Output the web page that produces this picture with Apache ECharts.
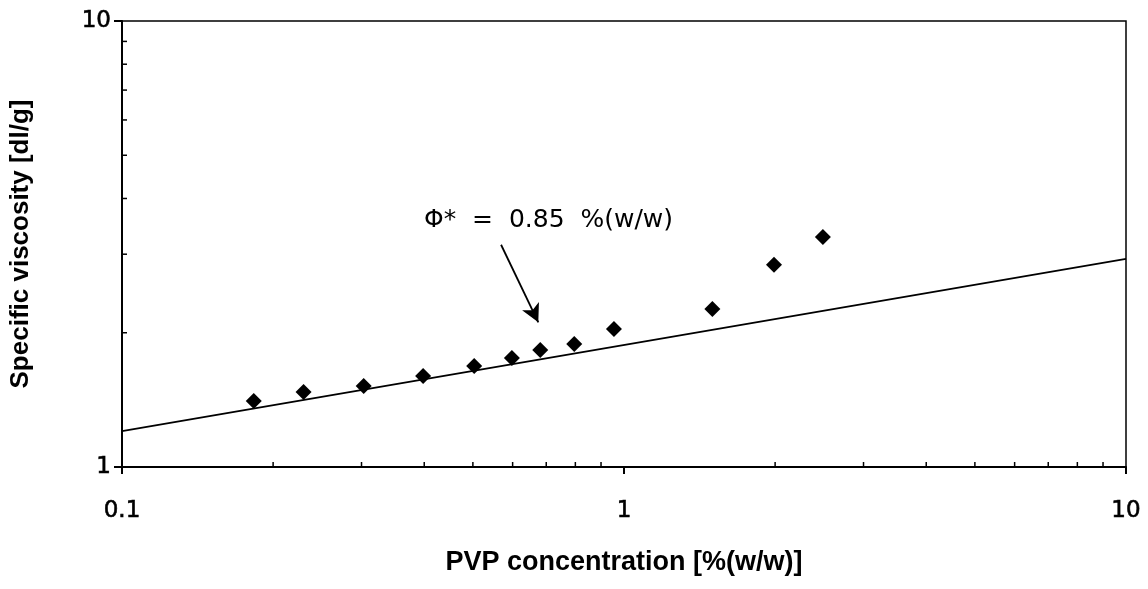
<!DOCTYPE html>
<html>
<head>
<meta charset="utf-8">
<script src="https://cdn.jsdelivr.net/npm/echarts@6/dist/echarts.min.js"></script>
<style>html,body{margin:0;padding:0;background:#fff}#c{width:1148px;height:589px}</style>
</head>
<body>
<div id="c"></div>
<script>
// Data
var concentration = [0.183, 0.230, 0.303, 0.398, 0.503, 0.598, 0.681, 0.796, 0.955, 1.50, 1.99, 2.49];
var viscosity     = [1.406, 1.473, 1.519, 1.600, 1.685, 1.756, 1.829, 1.888, 2.04, 2.26, 2.84, 3.28];
var fitX = [0.1, 10];
var fitY = [1.204, 2.93];
var arrowFrom = [0.569, 3.15];
var arrowTo = [0.675, 2.11];
var annotation = 'Φ*  =  0.85  %(w/w)';
var xMinorTicks = [0.2,0.3,0.4,0.5,0.6,0.7,0.8,0.9,2,3,4,5,6,7,8,9];
var yMinorTicks = [2,3,4,5,6,7,8,9];
var xTickLabels = {0.1:'0.1', 1:'1', 10:'10'};
var yTickLabels = {1:'1', 10:'10'};

var chart = echarts.init(document.getElementById('c'));
var tickLen = 5;
function minorTickSeries(vals, isX) {
  return {
    type: 'custom',
    silent: true,
    z: 5,
    data: vals.map(function (v) { return [v]; }),
    renderItem: function (params, api) {
      var v = api.value(0);
      var p, shape;
      if (isX) {
        p = api.coord([v, 1]);
        shape = { x1: p[0], y1: p[1], x2: p[0], y2: p[1] - tickLen };
      } else {
        p = api.coord([0.1, v]);
        shape = { x1: p[0], y1: p[1], x2: p[0] + tickLen, y2: p[1] };
      }
      return { type: 'line', shape: shape, style: { stroke: '#000', lineWidth: 1.5 } };
    },
    encode: isX ? { x: 0 } : { y: 0 }
  };
}

var scatterData = concentration.map(function (c, i) { return [c, viscosity[i]]; });
var fitData = fitX.map(function (x, i) { return [x, fitY[i]]; });

chart.setOption({
  animation: false,
  backgroundColor: '#fff',
  grid: { left: 120, right: 22, top: 21, bottom: 122, show: true, borderColor: '#000', borderWidth: 1.5, backgroundColor: 'transparent' },
  xAxis: {
    type: 'log', logBase: 10, min: 0.1, max: 10,
    name: 'PVP concentration [%(w/w)]',
    nameLocation: 'middle', nameGap: 82,
    nameTextStyle: { fontFamily: 'Liberation Sans', fontWeight: 'bold', fontSize: 27, color: '#000' },
    axisLine: { lineStyle: { color: '#000', width: 2 } },
    axisTick: { show: true, inside: false, length: 7, lineStyle: { color: '#000', width: 2 } },
    splitLine: { show: false },
    axisLabel: { margin: 33, fontFamily: 'DejaVu Sans', fontSize: 23, color: '#000', textBorderColor: '#000', textBorderWidth: 0.6,
      formatter: function (v) { return xTickLabels[v] !== undefined ? xTickLabels[v] : ''; } }
  },
  yAxis: {
    type: 'log', logBase: 10, min: 1, max: 10,
    name: 'Specific viscosity [dl/g]',
    nameLocation: 'middle', nameGap: 88,
    nameTextStyle: { fontFamily: 'Liberation Sans', fontWeight: 'bold', fontSize: 26, color: '#000' },
    axisLine: { lineStyle: { color: '#000', width: 2 } },
    axisTick: { show: true, inside: false, length: 8, lineStyle: { color: '#000', width: 2 } },
    splitLine: { show: false },
    axisLabel: { margin: 11, padding: [7, 0, 0, 0], fontFamily: 'DejaVu Sans', fontSize: 23, color: '#000', textBorderColor: '#000', textBorderWidth: 0.6,
      formatter: function (v) { return yTickLabels[v] !== undefined ? yTickLabels[v] : ''; } }
  },
  series: [
    {
      type: 'line', data: fitData, showSymbol: false, symbol: 'none',
      lineStyle: { color: '#000', width: 1.8 }, z: 3,
      markLine: {
        silent: true, symbol: ['none', 'arrow'], symbolSize: [14, 18],
        label: { show: false },
        lineStyle: { color: '#000', width: 1.8, type: 'solid' },
        data: [[{ coord: arrowFrom }, { coord: arrowTo }]]
      }
    },
    {
      type: 'scatter', data: scatterData, symbol: 'diamond', symbolSize: [16, 16],
      itemStyle: { color: '#000', opacity: 1 }, z: 4
    },
    minorTickSeries(xMinorTicks, true),
    minorTickSeries(yMinorTicks, false)
  ],
  graphic: [
    { type: 'text', left: 424, top: 208, style: { text: annotation, fontFamily: 'DejaVu Sans', fontSize: 25, fill: '#000' } }
  ]
});
</script>
</body>
</html>
